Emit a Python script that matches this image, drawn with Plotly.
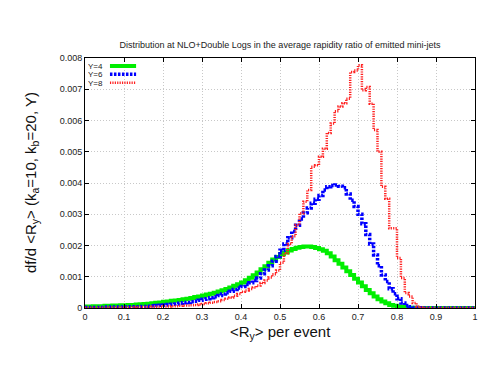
import plotly.graph_objects as go
import numpy as np

# bin left edges (0.01 wide bins) on the <R_y> axis
BIN_EDGES = [round(i * 0.01, 2) for i in range(101)]

# values in units of 1e-3 (per bin, 100 bins)
Y4 = [0.05, 0.05, 0.06, 0.06, 0.06, 0.07, 0.07, 0.08, 0.08, 0.09,
      0.09, 0.10, 0.10, 0.11, 0.12, 0.13, 0.14, 0.15, 0.17, 0.18,
      0.20, 0.21, 0.23, 0.24, 0.26, 0.28, 0.30, 0.32, 0.35, 0.37,
      0.40, 0.43, 0.46, 0.49, 0.53, 0.57, 0.61, 0.66, 0.71, 0.76,
      0.82, 0.89, 0.97, 1.05, 1.14, 1.24, 1.34, 1.45, 1.55, 1.63,
      1.72, 1.78, 1.84, 1.89, 1.93, 1.95, 1.97, 1.97, 1.95, 1.92,
      1.88, 1.83, 1.75, 1.65, 1.53, 1.42, 1.30, 1.18, 1.06, 0.94,
      0.82, 0.70, 0.58, 0.47, 0.37, 0.28, 0.21, 0.15, 0.10, 0.07,
      0.05, 0.03, 0.02, 0.01, 0.01, 0.0, 0.0, 0.0, 0.0, 0.0,
      0.0, 0.0, 0.0, 0.0, 0.0, 0.0, 0.0, 0.0, 0.0, 0.0]

Y6 = [0.02, 0.02, 0.02, 0.02, 0.02, 0.03, 0.03, 0.03, 0.03, 0.03,
      0.03, 0.04, 0.04, 0.04, 0.05, 0.05, 0.06, 0.07, 0.08, 0.09,
      0.10, 0.11, 0.12, 0.13, 0.15, 0.17, 0.18, 0.20, 0.22, 0.25,
      0.28, 0.30, 0.33, 0.36, 0.40, 0.45, 0.49, 0.54, 0.59, 0.64,
      0.69, 0.75, 0.81, 0.88, 0.96, 1.10, 1.22, 1.35, 1.50, 1.65,
      1.85, 2.05, 2.25, 2.45, 2.65, 2.85, 3.05, 3.20, 3.35, 3.48,
      3.60, 3.78, 3.88, 3.92, 3.94, 3.90, 3.85, 3.65, 3.45, 3.25,
      3.00, 2.70, 2.35, 2.05, 1.70, 1.35, 1.06, 0.85, 0.62, 0.46,
      0.30, 0.16, 0.08, 0.04, 0.02, 0.01, 0.0, 0.0, 0.0, 0.0,
      0.0, 0.0, 0.0, 0.0, 0.0, 0.0, 0.0, 0.0, 0.0, 0.0]

Y8 = [0.01, 0.01, 0.01, 0.01, 0.01, 0.01, 0.02, 0.02, 0.02, 0.02,
      0.02, 0.02, 0.02, 0.03, 0.03, 0.03, 0.03, 0.04, 0.04, 0.04,
      0.05, 0.05, 0.06, 0.06, 0.07, 0.08, 0.08, 0.09, 0.10, 0.11,
      0.13, 0.15, 0.17, 0.19, 0.22, 0.26, 0.30, 0.34, 0.39, 0.45,
      0.52, 0.56, 0.61, 0.66, 0.72, 0.80, 0.88, 0.98, 1.08, 1.20,
      1.45, 1.75, 2.05, 2.30, 2.66, 3.03, 3.40, 3.78, 4.52, 4.57,
      4.84, 5.10, 5.60, 5.90, 6.30, 6.45, 6.55, 6.70, 7.55, 7.60,
      7.77, 6.97, 7.07, 6.54, 5.70, 5.00, 3.88, 3.50, 2.55, 2.55,
      1.60, 0.96, 0.48, 0.37, 0.16, 0.05, 0.02, 0.0, 0.0, 0.0,
      0.0, 0.0, 0.0, 0.0, 0.0, 0.0, 0.0, 0.0, 0.0, 0.0]

SERIES = [
    ("Y=4", Y4, "#00ee00", 4.0, "solid"),
    ("Y=6", Y6, "#0000ff", 3.5, "2.5px,1.5px"),
    ("Y=8", Y8, "#ff2020", 2.5, "1.2px,1.2px"),
]

XTICKS = [0, 0.1, 0.2, 0.3, 0.4, 0.5, 0.6, 0.7, 0.8, 0.9, 1]
YTICKS = [0, 0.001, 0.002, 0.003, 0.004, 0.005, 0.006, 0.007, 0.008]

TITLE = "Distribution at NLO+Double Logs in the average rapidity ratio of emitted mini-jets"
XTITLE = "&lt;R<sub>y</sub>&gt; per event"
YTITLE = "df/d &lt;R<sub>y</sub>&gt; (k<sub>a</sub>=10, k<sub>b</sub>=20, Y)"

FONT = "Liberation Sans, Arial, Helvetica, sans-serif"

fig = go.Figure()
for name, vals, color, width, dash in SERIES:
    v = np.array(vals) * 1e-3
    fig.add_trace(go.Scatter(
        x=BIN_EDGES, y=list(v) + [v[-1]],
        mode="lines", line_shape="hv", name=name,
        line=dict(color=color, width=width, dash=dash),
        showlegend=False, hoverinfo="skip",
    ))

# gnuplot style key: text on the left, sample on the right
key_rows = [0.968, 0.935, 0.901]
for (name, vals, color, width, dash), yy in zip(SERIES, key_rows):
    fig.add_annotation(x=0.049, y=yy, xref="paper", yref="paper", text=name,
                       showarrow=False, xanchor="right", yanchor="middle",
                       height=8, borderpad=0,
                       font=dict(size=8, color="#222", family=FONT))
    fig.add_shape(type="line", xref="paper", yref="paper",
                  x0=0.064, x1=0.131, y0=yy, y1=yy,
                  line=dict(color=color, width=width, dash=dash))

fig.add_annotation(x=0.5, y=0, xref="paper", yref="paper", text=XTITLE,
                   showarrow=False, yshift=-24, yanchor="middle",
                   font=dict(size=15, color="#111", family=FONT))
fig.add_annotation(x=0, y=0.5, xref="paper", yref="paper", text=YTITLE,
                   showarrow=False, xshift=-54, textangle=-90,
                   xanchor="center", yanchor="middle",
                   font=dict(size=15, color="#111", family=FONT))

axis_common = dict(
    showline=True, linecolor="black", linewidth=1, mirror="allticks",
    ticks="inside", ticklen=4, tickcolor="black",
    showgrid=True, gridcolor="#c8c8c8", griddash="1px,2px", gridwidth=1,
    zeroline=False, tickfont=dict(size=9, color="#222", family=FONT),
)

fig.update_xaxes(range=[0, 1], tickvals=XTICKS, **axis_common)
fig.update_yaxes(range=[0, 0.008], tickvals=YTICKS, **axis_common)

fig.update_layout(
    width=494, height=382,
    margin=dict(l=85, r=19, t=58, b=74),
    paper_bgcolor="white", plot_bgcolor="white",
    title=dict(text=TITLE, x=0.5, xref="paper", xanchor="center",
               y=(382 - 45) / 382, yref="container", yanchor="middle",
               font=dict(size=9, color="#222", family=FONT)),
    font=dict(family=FONT),
)

fig.write_html("out.html", config={"displayModeBar": False},
               post_script="document.body.style.margin='0';document.body.style.overflow='hidden';")
